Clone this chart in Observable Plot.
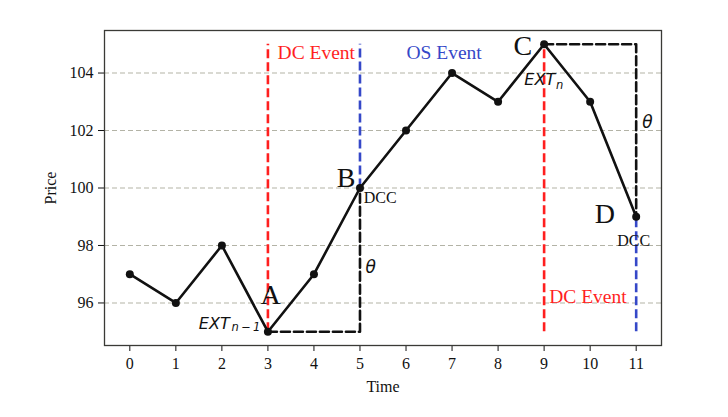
<!DOCTYPE html>
<html><head><meta charset="utf-8">
<script src="https://cdn.jsdelivr.net/npm/d3@7"></script>
<script src="https://cdn.jsdelivr.net/npm/@observablehq/plot@0.6"></script>
<style>body{margin:0;background:#fff}</style>
</head><body><div id="chart"></div>
<script>
// Data
const times = [0,1,2,3,4,5,6,7,8,9,10,11];
const prices = [97,96,98,95,97,100,102,104,103,105,103,99];
const xTicks = [0,1,2,3,4,5,6,7,8,9,10,11];
const yTicks = [96,98,100,102,104];
const dcLines = [{t:3,lo:95,hi:105},{t:9,lo:95,hi:105}];
const osLines = [{t:5,lo:100,hi:105},{t:11,lo:95,hi:99}];
const thetaBoxes = [
  {g:1,t:3,p:95},{g:1,t:5,p:95},{g:1,t:5,p:100},
  {g:2,t:9,p:105},{g:2,t:11,p:105},{g:2,t:11,p:99}
];
const pointLabels = [
  {text:"A",t:3.276,p:96.29},{text:"B",t:4.90,p:100.35},
  {text:"C",t:8.74,p:104.94},{text:"D",t:10.54,p:99.10}
];
const dccLabels = [{text:"DCC",t:5.08,p:99.66},{text:"DCC",t:10.59,p:98.16}];
const dcLabels = [{text:"DC Event",t:3.21,p:104.69},{text:"DC Event",t:9.11,p:96.22}];
const osLabels = [{text:"OS Event",t:6.01,p:104.69}];
const thetaLabels = [{text:"θ",t:5.12,p:97.23},{text:"θ",t:11.13,p:102.26}];
const extLabels = [{text:"EXT",t:2.17,p:95.28},{text:"EXT",t:9.24,p:103.76}];
const extSubs = [{text:"n\u2009−\u20091",t:2.21,p:95.14},{text:"n",t:9.26,p:103.58}];

const series = times.map((t,i)=>({t, p: prices[i]}));
const RED = "#ff1f1f", BLUE = "#3548c8";
const serif = "Liberation Serif, Times New Roman, serif";
const sans = "DejaVu Sans, sans-serif";

const chart = Plot.plot({
  width: 728, height: 417,
  marginLeft: 104, marginRight: 67, marginTop: 30, marginBottom: 72,
  style: {fontFamily: serif, fontSize: "16px", color: "#111", background: "#fff"},
  x: {domain: [-0.55, 11.55]},
  y: {domain: [94.52, 105.48]},
  marks: [
    Plot.gridY(yTicks, {stroke: "#b3b3a6", strokeOpacity: 1, strokeWidth: 1.1, strokeDasharray: "5,3"}),
    Plot.axisX(xTicks, {tickSize: 6, tickPadding: 6, fontSize: 16, label: "Time", labelAnchor: "center", labelArrow: "none", labelOffset: 46}),
    Plot.axisY(yTicks, {tickSize: 6, tickPadding: 5, fontSize: 16, label: "Price", labelAnchor: "center", labelArrow: "none", labelOffset: 60}),
    Plot.ruleX(dcLines, {x: "t", y1: "lo", y2: "hi", stroke: RED, strokeWidth: 2.6, strokeDasharray: "9,4"}),
    Plot.ruleX(osLines, {x: "t", y1: "lo", y2: "hi", stroke: BLUE, strokeWidth: 2.6, strokeDasharray: "9,4"}),
    Plot.line(thetaBoxes, {x: "t", y: "p", z: "g", stroke: "#111", strokeWidth: 2.6, strokeDasharray: "9,4", curve: "linear"}),
    Plot.line(series, {x: "t", y: "p", stroke: "#111", strokeWidth: 2.6}),
    Plot.dot(series, {x: "t", y: "p", r: 4, fill: "#111", stroke: "none"}),
    Plot.text(pointLabels, {x: "t", y: "p", text: "text", textAnchor: "end", fontSize: 28, fontFamily: serif, fill: "#111"}),
    Plot.text(dccLabels, {x: "t", y: "p", text: "text", textAnchor: "start", fontSize: 16, fontFamily: serif, fill: "#111"}),
    Plot.text(dcLabels, {x: "t", y: "p", text: "text", textAnchor: "start", fontSize: 19.5, fontFamily: serif, fill: RED}),
    Plot.text(osLabels, {x: "t", y: "p", text: "text", textAnchor: "start", fontSize: 19.5, fontFamily: serif, fill: BLUE}),
    Plot.text(thetaLabels, {x: "t", y: "p", text: "text", textAnchor: "start", fontSize: 17, fontFamily: sans, fontStyle: "italic", fill: "#111"}),
    Plot.text(extLabels, {x: "t", y: "p", text: "text", textAnchor: "end", fontSize: 16, fontFamily: sans, fontStyle: "italic", fill: "#111"}),
    Plot.text(extSubs, {x: "t", y: "p", text: "text", textAnchor: "start", fontSize: 11.5, fontFamily: sans, fontStyle: "italic", fill: "#111"}),
    Plot.frame({stroke: "#3a3a36", strokeWidth: 1.3})
  ]
});
document.getElementById("chart").appendChild(chart);
</script>
</body></html>
